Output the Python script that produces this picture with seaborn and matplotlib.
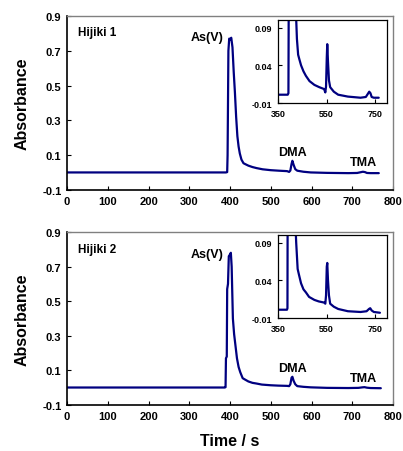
import numpy as np
import pandas as pd
import seaborn as sns
import matplotlib.pyplot as plt

# retention time (s) and absorbance
time_1 = [0, 390, 393, 394, 396, 398, 400, 403, 406, 409, 412, 415, 418, 421,
          424, 428, 433, 438, 445, 455, 465, 480, 500, 520, 540, 545, 548, 551,
          553, 556, 560, 565, 580, 598, 638, 690, 712, 720, 726, 731, 736, 745,
          765]
abs_1 = [0.001, 0.001, 0.003, 0.10, 0.70, 0.77, 0.765, 0.775, 0.72, 0.58,
         0.46, 0.32, 0.21, 0.15, 0.11, 0.075, 0.054, 0.048, 0.040, 0.032,
         0.026, 0.019, 0.014, 0.011, 0.0085, 0.004, 0.012, 0.05, 0.068, 0.045,
         0.02, 0.011, 0.005, 0.001, -0.0015, -0.003, -0.002, 0.002, 0.005,
         0.003, -0.002, -0.003, -0.003]

time_2 = [0, 387, 389, 390, 392, 393, 395, 397, 400, 402, 404, 407, 410, 413,
          417, 421, 425, 431, 436, 445, 455, 465, 478, 500, 518, 540, 545, 548,
          551, 553, 556, 560, 565, 580, 598, 638, 690, 715, 725, 730, 736, 745,
          770]
abs_2 = [0.001, 0.001, 0.003, 0.17, 0.18, 0.57, 0.60, 0.76, 0.77, 0.78, 0.70,
         0.40, 0.31, 0.25, 0.17, 0.12, 0.09, 0.055, 0.048, 0.036, 0.028, 0.024,
         0.018, 0.014, 0.012, 0.0105, 0.009, 0.02, 0.058, 0.063, 0.04, 0.02,
         0.009, 0.005, 0.002, -0.001, -0.002, -0.001, 0.002, 0.003, 0.0,
         -0.002, -0.003]

samples = ["Hijiki 1", "Hijiki 2"]
main_yticks = [-0.1, 0.1, 0.3, 0.5, 0.7, 0.9]
main_xticks = list(range(0, 801, 100))
inset_yticks = [-0.01, 0.04, 0.09]
inset_xticks = [350, 550, 750]
peak_names = ["As(V)", "DMA", "TMA"]
peak_label_x = [345, 554, 728]
label_heights = [[0.78, 0.118, 0.06], [0.773, 0.112, 0.058]]

LINE = "#000080"

sns.set_theme(style="white", rc={"text.color": "black",
                                 "axes.labelcolor": "black",
                                 "xtick.color": "black",
                                 "ytick.color": "black"})
plt.rcParams["font.family"] = ["Liberation Sans", "DejaVu Sans"]
plt.rcParams["font.weight"] = "bold"

fig = plt.figure(figsize=(4.03, 4.52), dpi=100)

main_pos = [[0.1663, 0.5774, 0.809, 0.385], [0.1663, 0.1018, 0.809, 0.3827]]
inset_pos = [[0.6898, 0.7699, 0.271, 0.1836], [0.6898, 0.2942, 0.271, 0.1836]]

data = [pd.DataFrame({"t": time_1, "a": abs_1}),
        pd.DataFrame({"t": time_2, "a": abs_2})]


def style_ticks(ax, size):
    ax.tick_params(direction="in", length=3, width=0.8, labelsize=size,
                   colors="black", pad=4, left=True, bottom=True)
    for lab in ax.get_xticklabels() + ax.get_yticklabels():
        lab.set_fontweight("bold")


for i, df in enumerate(data):
    ax = fig.add_axes(main_pos[i])
    sns.lineplot(data=df, x="t", y="a", ax=ax, color=LINE, linewidth=1.6,
                 estimator=None, sort=False)
    ax.set_xlim(0, 800)
    ax.set_ylim(-0.1, 0.9)
    ax.set_xticks(main_xticks)
    ax.set_yticks(main_yticks)
    ax.set_yticklabels([f"{v:.1f}" for v in main_yticks])
    ax.set_xlabel("")
    ax.set_ylabel("Absorbance", fontsize=11.5, fontweight="bold", labelpad=9)
    for s in ["left", "bottom"]:
        ax.spines[s].set_color("black")
        ax.spines[s].set_linewidth(1.2)
    for s in ["top", "right"]:
        ax.spines[s].set_color("#808080")
        ax.spines[s].set_linewidth(1.0)
    style_ticks(ax, 8)
    ax.text(27, 0.80 if i else 0.81, samples[i], fontsize=8.5,
            fontweight="bold", va="center", ha="left")
    for name, x, y in zip(peak_names, peak_label_x, label_heights[i]):
        ax.text(x, y, name, fontsize=9, fontweight="bold", ha="center",
                va="center")
    if i == 1:
        ax.set_xlabel("Time / s", fontsize=11.5, fontweight="bold",
                      labelpad=9)

    ins = fig.add_axes(inset_pos[i])
    sns.lineplot(data=df, x="t", y="a", ax=ins, color=LINE, linewidth=1.6,
                 estimator=None, sort=False)
    ins.set_xlim(350, 800)
    ins.set_ylim(-0.01, 0.1)
    ins.set_xticks(inset_xticks)
    ins.set_yticks(inset_yticks)
    ins.set_yticklabels([f"{v:.2f}" for v in inset_yticks])
    ins.set_xlabel("")
    ins.set_ylabel("")
    for s in ins.spines.values():
        s.set_color("black")
        s.set_linewidth(0.9)
    style_ticks(ins, 6.5)

fig.savefig("out.png", dpi=100)
